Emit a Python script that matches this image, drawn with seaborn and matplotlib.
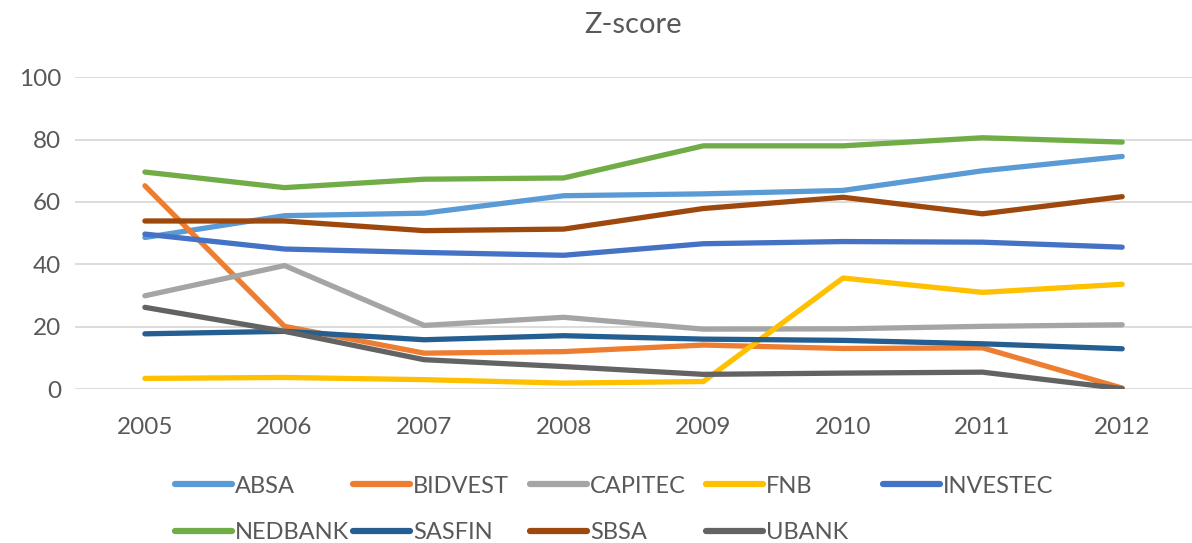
import matplotlib
matplotlib.use("Agg")
import matplotlib.pyplot as plt
import seaborn as sns
import pandas as pd
from matplotlib.lines import Line2D

years = [2005, 2006, 2007, 2008, 2009, 2010, 2011, 2012]
banks = ["ABSA", "BIDVEST", "CAPITEC", "FNB", "INVESTEC", "NEDBANK", "SASFIN", "SBSA", "UBANK"]
absa = [48.6, 55.6, 56.4, 62.0, 62.6, 63.7, 70.0, 74.6]
bidvest = [65.2, 20.1, 11.5, 12.0, 14.1, 13.0, 13.2, 0.3]
capitec = [29.9, 39.6, 20.4, 23.0, 19.2, 19.3, 20.1, 20.6]
fnb = [3.4, 3.7, 3.0, 1.9, 2.4, 35.6, 31.0, 33.6]
investec = [49.7, 44.9, 43.8, 42.9, 46.6, 47.3, 47.1, 45.5]
nedbank = [69.6, 64.6, 67.3, 67.7, 78.0, 78.0, 80.6, 79.2]
sasfin = [17.7, 18.5, 15.8, 17.1, 16.0, 15.6, 14.5, 12.9]
sbsa = [53.9, 53.9, 50.8, 51.3, 57.9, 61.5, 56.2, 61.7]
ubank = [26.2, 18.5, 9.4, 7.2, 4.7, 5.1, 5.4, 0.1]
series = [absa, bidvest, capitec, fnb, investec, nedbank, sasfin, sbsa, ubank]
colors = ["#5B9BD5", "#ED7D31", "#A5A5A5", "#FFC000", "#4472C4",
          "#70AD47", "#255E91", "#9E480E", "#636363"]

rows = []
for b, vals in zip(banks, series):
    for y, v in zip(years, vals):
        rows.append({"Year": y, "Bank": b, "Z": v})
df = pd.DataFrame(rows)

sns.set_theme(style="white")
plt.rcParams["font.family"] = ["Lato", "DejaVu Sans"]

fig = plt.figure(figsize=(11.92, 5.43), dpi=100)
ax = fig.add_axes([0.063, 0.2836, 0.937, 0.5741])

sns.lineplot(data=df, x="Year", y="Z", hue="Bank", hue_order=banks,
             palette=dict(zip(banks, colors)), linewidth=3.8, ax=ax,
             legend=False)
for ln in ax.get_lines():
    ln.set_solid_capstyle("round")
    ln.set_solid_joinstyle("round")

ax.set_xlim(2004.5, 2012.5)
ax.set_ylim(0, 100)
ax.set_xticks(years)
ax.set_xticklabels([str(y) for y in years])
ax.set_yticks([0, 20, 40, 60, 80, 100])
ax.grid(axis="y", color="#D9D9D9", linewidth=1.3)
ax.set_axisbelow(True)
for s in ax.spines.values():
    s.set_visible(False)
ax.tick_params(axis="both", length=0, labelsize=17.5, colors="#595959")
ax.tick_params(axis="x", pad=20)
ax.tick_params(axis="y", pad=10)
ax.set_xlabel("")
ax.set_ylabel("")
ax.set_title("Z-score", fontsize=21, color="#595959", pad=32)

# legend: five columns at fixed positions, two rows
columns = [["ABSA", "NEDBANK"], ["BIDVEST", "SASFIN"], ["CAPITEC", "SBSA"],
           ["FNB", "UBANK"], ["INVESTEC"]]
col_x = [0.1468, 0.2961, 0.4446, 0.5923, 0.7408]
for names, xpos in zip(columns, col_x):
    hs = [Line2D([0], [0], color=colors[banks.index(b)], linewidth=4.5,
                 solid_capstyle="round") for b in names]
    fig.legend(hs, names, loc="upper left", bbox_to_anchor=(xpos, 0.124),
               ncol=1, frameon=False, fontsize=17, handlelength=2.4,
               handletextpad=0.15, labelspacing=1.07, borderpad=0,
               borderaxespad=0, labelcolor="#595959")
fig.savefig("out.png", dpi=100)
